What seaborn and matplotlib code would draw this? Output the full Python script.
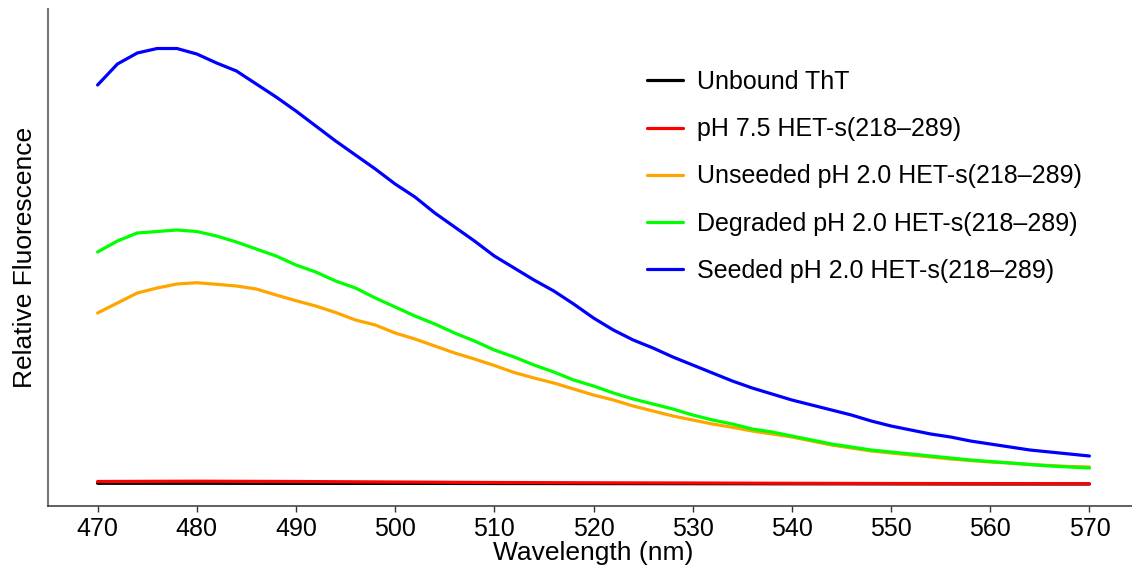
import numpy as np
import pandas as pd
import matplotlib
matplotlib.use("Agg")
import matplotlib.pyplot as plt
import seaborn as sns

# ---- data (relative fluorescence, arbitrary units) ----
wl_fine = list(range(470, 571, 2))
wl_coarse = list(range(470, 571, 10))

unbound_tht = [22.7, 22.7, 22.6, 22.6, 22.5, 22.4, 22.3, 22.2, 22.1, 22.0, 22.0]
ph75_het = [24.5, 24.8, 24.5, 24.0, 23.5, 23.2, 23.0, 22.7, 22.5, 22.4, 22.3]

unseeded_ph2 = [193, 203, 213, 218, 222, 223.3, 221.7, 220, 217, 211, 205.3,
                200, 193.5, 186, 181, 173, 167, 160, 153, 147, 140.5, 133.5,
                128, 123, 117, 111, 106, 100, 95, 90, 86, 82, 78.7, 75, 72,
                69, 65, 61, 58, 55, 53, 51, 49, 47, 45.5, 44, 43, 41.5, 40.5,
                39.5, 39]

degraded_ph2 = [254, 265, 273, 274.5, 276, 274.5, 270, 264, 257, 250, 241,
                234, 225, 218, 208, 199, 190, 182, 173, 165, 156, 149, 141,
                134, 126, 120, 113, 107, 102, 97, 91, 86, 82, 77, 74, 70, 66,
                62, 59, 56, 54, 52, 50, 48, 46, 44.5, 43, 41.5, 40, 39, 38]

seeded_ph2 = [421, 442, 453, 457.5, 457.5, 452, 443, 435, 422, 409, 395,
              380, 365, 351, 337, 322, 309, 293, 279, 265, 250, 238, 226,
              215, 202, 188, 176, 166, 158, 149, 141, 133, 125, 118, 112,
              106, 101, 96, 91, 85, 80, 76, 72, 69, 65, 62, 59, 56, 54, 52,
              50]

series_names = ["Unbound ThT", "pH 7.5 HET-s(218\u2013289)",
                "Unseeded pH 2.0 HET-s(218\u2013289)",
                "Degraded pH 2.0 HET-s(218\u2013289)",
                "Seeded pH 2.0 HET-s(218\u2013289)"]
series_colors = ["#000000", "#FF0000", "#FFA500", "#00FF00", "#0000FF"]

frames = []
for name, xs, ys in zip(series_names,
                        [wl_coarse, wl_coarse, wl_fine, wl_fine, wl_fine],
                        [unbound_tht, ph75_het, unseeded_ph2, degraded_ph2, seeded_ph2]):
    frames.append(pd.DataFrame({"Wavelength": xs, "Fluorescence": ys, "Sample": name}))
df = pd.concat(frames, ignore_index=True)

# ---- figure ----
sns.set_theme(style="white")
plt.rcParams["font.family"] = ["Liberation Sans", "DejaVu Sans"]
plt.rcParams["text.color"] = "black"
plt.rcParams["axes.labelcolor"] = "black"
plt.rcParams["xtick.color"] = "black"

W, H = 1132, 567
fig = plt.figure(figsize=(W / 100, H / 100), dpi=100)
ax = fig.add_axes([48 / W, 61 / H, 1091 / W, 497 / H])

sns.lineplot(data=df, x="Wavelength", y="Fluorescence", hue="Sample",
             hue_order=series_names, palette=series_colors,
             estimator=None, linewidth=2.3, ax=ax, legend=True)

ax.set_xlim(465, 575)
ax.set_ylim(0, 497)
ax.set_xticks(list(range(470, 571, 10)))
ax.set_yticks([])
ax.tick_params(axis="x", labelsize=18, length=4, width=1, direction="out",
               color="#333333", labelcolor="black", pad=4, bottom=True)
ax.set_xlabel("Wavelength (nm)", fontsize=19, labelpad=0, color="black")
ax.set_ylabel("Relative Fluorescence", fontsize=19, labelpad=8, color="black")

for s in ["top", "right"]:
    ax.spines[s].set_visible(False)
ax.spines["left"].set_color("#777777")
ax.spines["bottom"].set_color("#444444")
ax.spines["left"].set_linewidth(1.5)
ax.spines["bottom"].set_linewidth(1.2)

handles, labels = ax.get_legend_handles_labels()
leg = ax.legend(handles, labels, loc="upper left",
                bbox_to_anchor=(647 / W, 1 - 70 / H), bbox_transform=fig.transFigure,
                frameon=False, fontsize=18, handlelength=1.45, handletextpad=0.55,
                labelspacing=0.93, borderpad=0, borderaxespad=0)
for line in leg.get_lines():
    line.set_linewidth(2.3)
for t in leg.get_texts():
    t.set_color("black")

fig.savefig("out.png", dpi=100)
